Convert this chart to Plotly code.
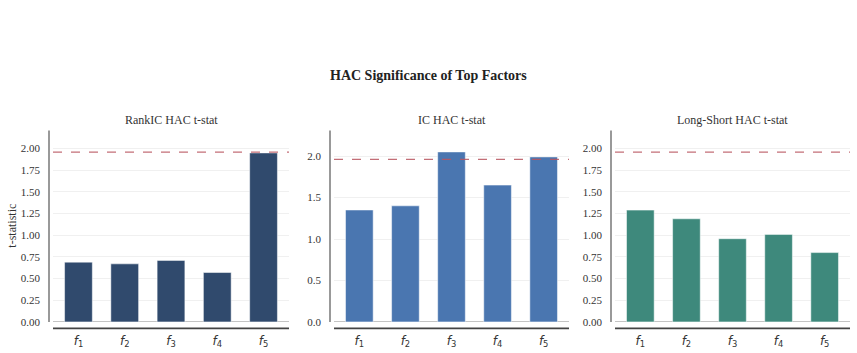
import plotly.graph_objects as go

factors = ["f1", "f2", "f3", "f4", "f5"]
factor_labels = ["<i>f</i><sub>1</sub>", "<i>f</i><sub>2</sub>", "<i>f</i><sub>3</sub>",
                 "<i>f</i><sub>4</sub>", "<i>f</i><sub>5</sub>"]
rankic_t = [0.69, 0.67, 0.71, 0.57, 1.95]
ic_t = [1.35, 1.40, 2.05, 1.65, 1.99]
ls_t = [1.29, 1.19, 0.96, 1.01, 0.80]
panel_titles = ["RankIC HAC t-stat", "IC HAC t-stat", "Long-Short HAC t-stat"]
colors = ["#304A6D", "#4A76B0", "#3E897C"]
critical = 1.96

W, H = 857, 353
HE = 346  # effective rendered height used for placing by fraction
x_domains = [(53, 289), (334, 569), (615, 850)]
y_top, y_bot = 130, 321
y_ranges = [2.21, 2.31, 2.21]
tick_sets = [
    ([0, 0.25, 0.5, 0.75, 1.0, 1.25, 1.5, 1.75, 2.0], "%.2f"),
    ([0, 0.5, 1.0, 1.5, 2.0], "%.1f"),
    ([0, 0.25, 0.5, 0.75, 1.0, 1.25, 1.5, 1.75, 2.0], "%.2f"),
]
series = [rankic_t, ic_t, ls_t]

serif = "Liberation Serif, Times New Roman, serif"
fig = go.Figure()
layout = dict(
    width=W, height=H, margin=dict(l=0, r=0, t=0, b=0),
    plot_bgcolor="white", paper_bgcolor="white", showlegend=False,
    font=dict(family=serif, color="#333333", size=11),
)
shapes = []
annotations = []
for i, (vals, col) in enumerate(zip(series, colors)):
    n = "" if i == 0 else str(i + 1)
    xa, ya = "x" + n, "y" + n
    fig.add_trace(go.Bar(
        x=factors, y=vals, xaxis=xa, yaxis=ya, width=0.6,
        marker=dict(color=col, line=dict(color="rgba(255,255,255,0.5)", width=1)),
    ))
    x0, x1 = x_domains[i]
    tv, fmt = tick_sets[i]
    layout["xaxis" + n] = dict(
        domain=[x0 / W, x1 / W], anchor=ya, range=[-0.55, 4.55],
        tickvals=factors, ticktext=factor_labels, showgrid=False, showline=False,
        ticks="", ticklabelstandoff=10,
        tickfont=dict(family="DejaVu Sans", size=12, color="#333333"),
    )
    layout["yaxis" + n] = dict(
        domain=[1 - y_bot / HE, 1 - y_top / HE], anchor=xa, range=[0, y_ranges[i]],
        tickvals=tv, ticktext=[fmt % v for v in tv], showgrid=True,
        gridcolor="#f0f0f0", gridwidth=1, zeroline=True, zerolinecolor="#c4c4c4",
        zerolinewidth=1, showline=False, ticks="", ticklabelstandoff=12,
        tickfont=dict(family=serif, size=11, color="#333333"),
    )
    dx = xa + " domain"
    dy = ya + " domain"
    shapes.append(dict(type="line", xref=dx, x0=0, x1=1, yref=ya, y0=critical, y1=critical,
                       line=dict(color="rgba(185,85,95,0.85)", width=1.2, dash="dash")))
    off_x = -4 / (x1 - x0)
    shapes.append(dict(type="line", xref=dx, x0=off_x, x1=off_x, yref=dy, y0=0, y1=1,
                       line=dict(color="#777777", width=1.5)))
    off_y = -6.5 / (y_bot - y_top)
    shapes.append(dict(type="line", xref=dx, x0=0, x1=1, yref=dy, y0=off_y, y1=off_y,
                       line=dict(color="#444444", width=1.8)))
    annotations.append(dict(text=panel_titles[i], xref="paper", yref="paper",
                            x=(x0 + x1) / 2 / W, y=1 - 120 / HE, showarrow=False,
                            xanchor="center", yanchor="middle",
                            font=dict(family=serif, size=12, color="#333333")))

annotations.append(dict(text="<b>HAC Significance of Top Factors</b>", xref="paper", yref="paper",
                        x=0.5, y=1 - 75 / HE, showarrow=False, xanchor="center", yanchor="middle",
                        font=dict(family=serif, size=14, color="#222222")))
annotations.append(dict(text="t-statistic", xref="paper", yref="paper",
                        x=12 / W, y=1 - 225 / HE, showarrow=False, textangle=-90,
                        xanchor="center", yanchor="middle",
                        font=dict(family=serif, size=12, color="#333333")))
layout["shapes"] = shapes
layout["annotations"] = annotations
fig.update_layout(**layout)
fig.write_html("out.html")
